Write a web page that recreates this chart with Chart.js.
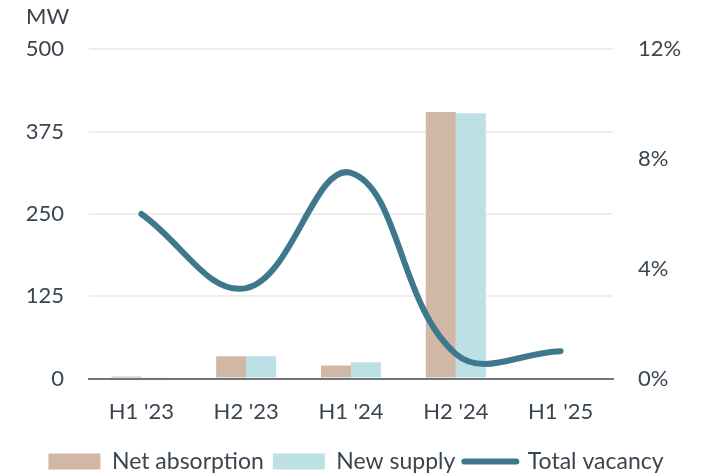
<!DOCTYPE html>
<html>
<head>
<meta charset="utf-8">
<script src="https://cdn.jsdelivr.net/npm/chart.js@4"></script>
<style>
  html, body { margin: 0; padding: 0; background: #fff; }
  #wrap { width: 711px; height: 473px; }
</style>
</head>
<body>
<div id="wrap"><canvas id="grafico"></canvas></div>
<script>
const periodos = ["H1 '23", "H2 '23", "H1 '24", "H2 '24", "H1 '25"]
const netAbsorption = [3, 34, 20, 405, 0]
const newSupply = [2, 34, 25, 403, 0]
const totalVacancy = [6.0, 3.3, 7.5, 0.9, 1.0]

const colorTexto = '#3b4550'
const fuente = { family: 'Lato', size: 22, weight: 'normal' }

const config = {
  type: 'bar',
  data: {
    labels: periodos,
    datasets: [
      {
        label: 'Net absorption',
        data: netAbsorption,
        backgroundColor: '#d1b8a6',
        yAxisID: 'y',
        order: 1,
        categoryPercentage: 0.573,
        barPercentage: 1
      },
      {
        label: 'New supply',
        data: newSupply,
        backgroundColor: '#bddfe6',
        yAxisID: 'y',
        order: 1,
        categoryPercentage: 0.573,
        barPercentage: 1
      },
      {
        type: 'line',
        label: 'Total vacancy',
        data: totalVacancy,
        borderColor: '#3f788c',
        backgroundColor: '#3f788c',
        borderWidth: 6,
        borderCapStyle: 'round',
        pointRadius: 0,
        tension: 0.4,
        yAxisID: 'y1',
        order: 0
      }
    ]
  },
  options: {
    responsive: false,
    animation: false,
    layout: { padding: { left: 26, right: 25, top: 4, bottom: -10 } },
    plugins: {
      title: {
        display: true,
        text: 'MW',
        align: 'start',
        color: colorTexto,
        font: fuente,
        padding: { top: 0, bottom: 19 }
      },
      legend: {
        position: 'bottom',
        labels: {
          color: colorTexto,
          font: { family: 'Lato', size: 23 },
          usePointStyle: true,
          pointStyleWidth: 52,
          boxHeight: 16,
          padding: 9,
          sort: (a, b) => a.datasetIndex - b.datasetIndex,
          generateLabels: (chart) => {
            const items = Chart.defaults.plugins.legend.labels.generateLabels(chart)
            items.forEach((it) => {
              if (it.datasetIndex === 2) {
                it.pointStyle = 'line'
                it.lineWidth = 6
                it.lineCap = 'round'
                it.strokeStyle = '#3f788c'
              } else {
                it.pointStyle = 'rect'
                it.lineWidth = 0
              }
            })
            return items
          }
        }
      },
      tooltip: { enabled: false }
    },
    scales: {
      x: {
        grid: { display: false, drawTicks: false },
        border: { display: true, color: '#6b777c', width: 2 },
        ticks: { color: colorTexto, font: fuente, padding: 20 },
        afterFit: (s) => { s.height -= 4 }
      },
      y: {
        position: 'left',
        min: 0,
        max: 500,
        ticks: { stepSize: 125, color: colorTexto, font: fuente, padding: 25 },
        grid: { color: '#eeeeee', lineWidth: 2, drawTicks: false },
        border: { display: false },
        afterFit: (s) => { s.width = 63 }
      },
      y1: {
        position: 'right',
        min: 0,
        max: 12,
        ticks: {
          stepSize: 4,
          color: colorTexto,
          font: fuente,
          padding: 25,
          callback: (v) => v + '%'
        },
        grid: { display: false, drawTicks: false },
        border: { display: false },
        afterFit: (s) => { s.width = 73 }
      }
    }
  }
}

const canvasElement = document.getElementById('grafico')
canvasElement.width = 711
canvasElement.height = 473
new Chart(canvasElement, config)
</script>
</body>
</html>
